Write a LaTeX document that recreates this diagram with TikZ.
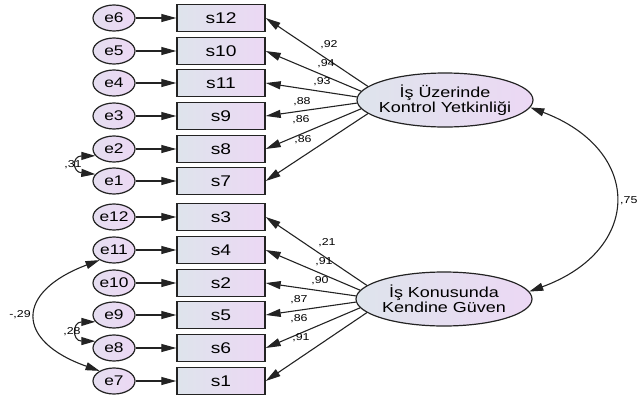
\documentclass[tikz,border=0pt]{standalone}
\usepackage{fontspec}
\setmainfont{Liberation Sans}[FakeStretch=1.24]
\usetikzlibrary{arrows.meta,shapes.geometric}
\definecolor{shadeL}{RGB}{222,228,236}
\definecolor{shadeR}{RGB}{236,216,244}
\definecolor{edge}{RGB}{35,35,35}
\tikzset{
  obs/.style={draw=edge,line width=1.4pt,rectangle,minimum width=88pt,minimum height=27pt,
              left color=shadeL,right color=shadeR,font=\fontsize{15.5}{15.5}\selectfont},
  err/.style={draw=edge,line width=1.2pt,ellipse,minimum width=42pt,minimum height=26pt,inner sep=0pt,
              left color=shadeL!50!shadeR,right color=shadeR,font=\fontsize{14}{14}\selectfont},
  lat/.style={draw=edge,line width=1.2pt,ellipse,minimum width=176pt,minimum height=54pt,inner sep=0pt,
              inner xsep=-8pt,left color=shadeL,right color=shadeR,align=center,
              font=\fontsize{14.5}{14.5}\selectfont},
  reg/.style={draw=edge,line width=1.1pt,-{Triangle[length=15pt,width=8pt]}},
  cov/.style={draw=edge,line width=1.1pt,{Triangle[length=14pt,width=8pt]}-{Triangle[length=14pt,width=8pt]}},
  est/.style={font=\fontsize{10}{10}\selectfont,inner sep=0pt}
}
\begin{document}
\begin{tikzpicture}[x=1pt,y=-1pt]
\useasboundingbox (0,0) rectangle (640,397);
% latent factors
\node[lat] (top) at (445,100) {İş Üzerinde\\Kontrol Yetkinliği};
\node[lat] (bot) at (444,299) {İş Konusunda\\Kendine Güven};
% items and their errors
\foreach \b/\e/\y/\a in {s12/e6/18/170,s10/e5/51/174,s11/e4/83/178,
                         s9/e3/116/182,s8/e2/149/186,s7/e1/181/190}{
  \node[obs] (\b) at (221,\y) {\b};
  \node[err] (\e) at (114,\y) {\e};
  \draw[reg] (\e) -- (\b);
  \draw[reg] (top.\a) -- (\b.east);
}
\foreach \b/\e/\y/\a in {s3/e12/217/170,s4/e11/250/174,s2/e10/283/178,
                         s5/e9/315/182,s6/e8/348/186,s1/e7/381/190}{
  \node[obs] (\b) at (221,\y) {\b};
  \node[err] (\e) at (114,\y) {\e};
  \draw[reg] (\e) -- (\b);
  \draw[reg] (bot.\a) -- (\b.east);
}
% covariances
\draw[cov] (e2.200) .. controls (72,156) and (72,172) .. (e1.160);
\draw[cov] (e9.200) .. controls (72,322) and (72,341) .. (e8.160);
\draw[cov] (e11.215) .. controls (15,292) and (15,341) .. (e7.145);
\draw[cov] (top.-5) .. controls (643,150) and (643,250) .. (bot.5);
% estimates
\node[est] (k12) at (329,45) {,92};
\node[est] (k10) at (326,64) {,94};
\node[est] (k11) at (322,82) {,93};
\node[est] (k9) at (302,102) {,88};
\node[est] (k8) at (301,120) {,86};
\node[est] (k7) at (303,140) {,86};
\node[est] (k3) at (327,243) {,21};
\node[est] (k4) at (324,262) {,91};
\node[est] (k2) at (320,281) {,90};
\node[est] (k5) at (299,300) {,87};
\node[est] (k6) at (299,319) {,86};
\node[est] (k1) at (301,338) {,91};
\node[est] (c12) at (73,165) {,31};
\node[est] (c89) at (72,332) {,28};
\node[est] (c711) at (20,315) {-,29};
\node[est,anchor=west] (cf) at (620,201) {,75};
\end{tikzpicture}
\end{document}
